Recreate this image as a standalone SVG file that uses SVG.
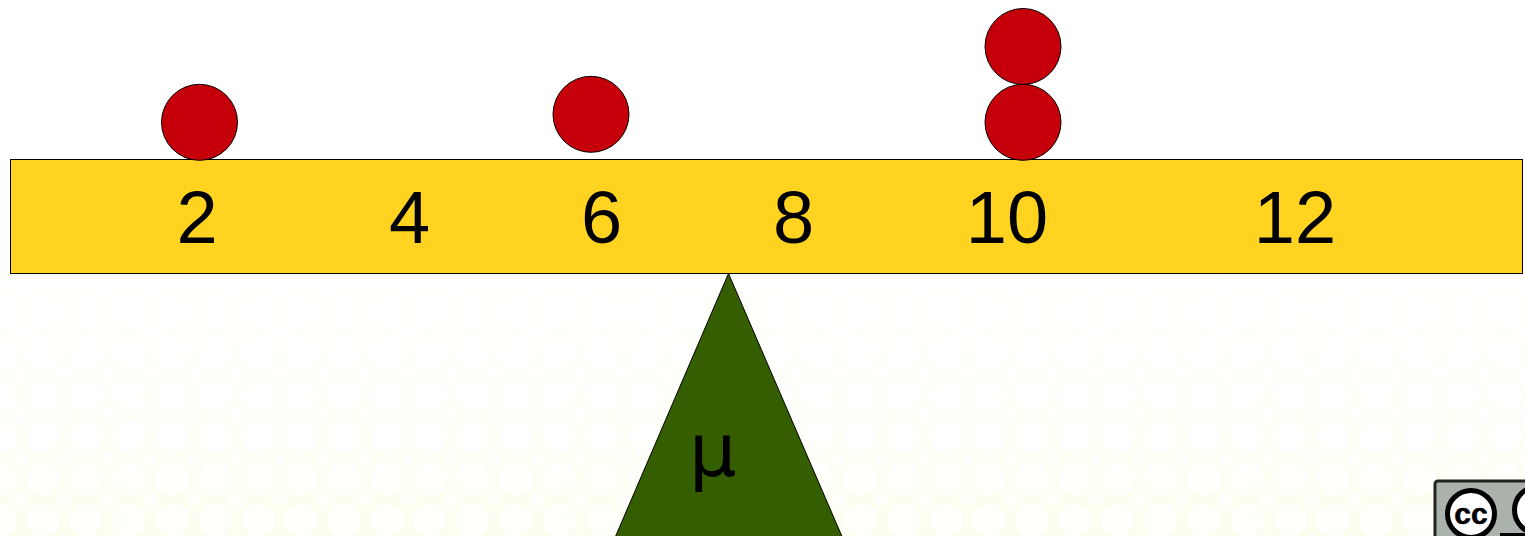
<svg xmlns="http://www.w3.org/2000/svg" width="1525" height="536" viewBox="0 0 1525 536">
<style>
.ball{fill:#c5000b;stroke:#000;stroke-width:1}
.num{font-family:"Liberation Sans",Arial,sans-serif;font-size:74px;fill:#000;text-anchor:middle}
</style>
<defs>
<linearGradient id="fade" x1="0" y1="274" x2="0" y2="536" gradientUnits="userSpaceOnUse">
<stop offset="0" stop-color="#fff" stop-opacity="0.9"/>
<stop offset="0.5" stop-color="#fff" stop-opacity="0.72"/>
<stop offset="1" stop-color="#fff" stop-opacity="0.3"/>
</linearGradient>
<pattern id="honey" x="21.500" y="416" width="43" height="41.700" patternUnits="userSpaceOnUse">
<rect width="43" height="41.700" fill="#fdfdea"/>
<circle cx="21.500" cy="20.850" r="18" fill="#fffffa" stroke="#fcfce2" stroke-width="1.500"/>
<path d="M0 0H8L0 8ZM43 0H35L43 8ZM0 41.700H8L0 33.700ZM43 41.700H35L43 33.700Z" fill="#fffffa"/>
</pattern>
<clipPath id="ccClip"><rect x="1433" y="478" width="92" height="58"/></clipPath>
</defs>
<rect width="1525" height="536" fill="#fff"/>
<g id="background">
<rect y="274" width="1525" height="262" fill="url(#honey)"/>
<rect y="274" width="1525" height="262" fill="url(#fade)"/>
</g>
<g id="beam">
<rect x="10.500" y="159.500" width="1512" height="114" fill="#ffd320" stroke="#000" stroke-width="1"/>
<text class="num" x="197" y="243">2</text>
<text class="num" x="409.500" y="243">4</text>
<text class="num" x="601.500" y="243">6</text>
<text class="num" x="793.500" y="243">8</text>
<text class="num" x="1007" y="243">10</text>
<text class="num" x="1295" y="243">12</text>
</g>
<g id="fulcrum">
<path d="M728.500 273.500L842 536.500H615.500Z" fill="#355e00" stroke="#000" stroke-width="1"/>
<text x="689" y="476" font-family="'DejaVu Sans',sans-serif" font-size="75" fill="#000">μ</text>
</g>
<g id="ball-2"><circle class="ball" cx="199.500" cy="122.300" r="38"/></g>
<g id="ball-6"><circle class="ball" cx="591" cy="114.300" r="38"/></g>
<g id="ball-10a"><circle class="ball" cx="1023" cy="122.300" r="38"/></g>
<g id="ball-10b"><circle class="ball" cx="1023" cy="46.500" r="38"/></g>
<g id="cc-badge" clip-path="url(#ccClip)">
<rect x="1435" y="481" width="110" height="70" rx="3" fill="#aab2ab" stroke="#222" stroke-width="3"/>
<rect x="1500" y="533" width="30" height="5" fill="#000"/>
<circle cx="1471" cy="514" r="23.500" fill="#fff" stroke="#000" stroke-width="5"/>
<circle cx="1538" cy="510" r="23.500" fill="#fff" stroke="#000" stroke-width="5"/>
<text x="1471" y="524" font-family="'Liberation Sans',Arial,sans-serif" font-weight="bold" font-size="30" fill="#000" stroke="#000" stroke-width="0.6" text-anchor="middle">cc</text>
</g>
</svg>
